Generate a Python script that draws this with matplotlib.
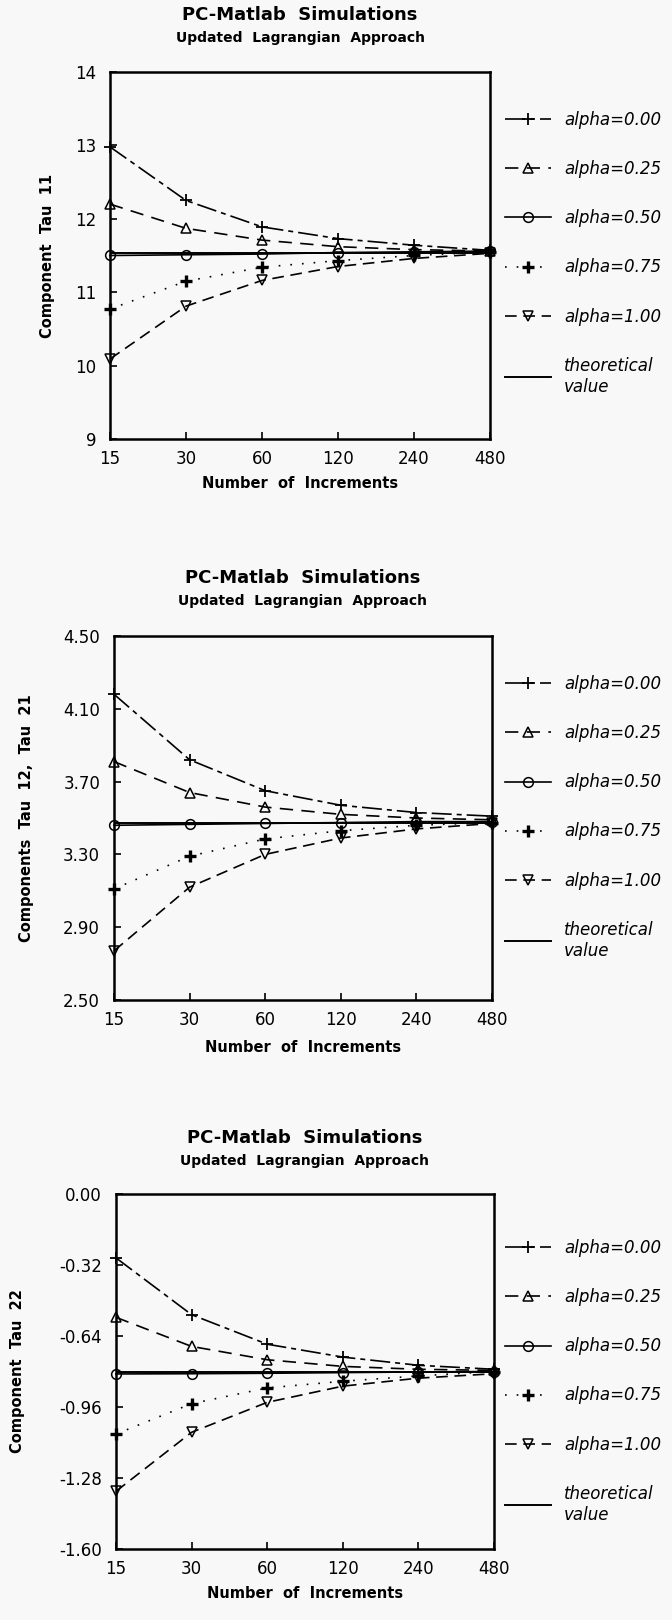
"""
Three stacked panels: PC-Matlab simulations, Updated Lagrangian approach.
"""

import matplotlib
matplotlib.use("Agg")
import matplotlib.pyplot as plt
from matplotlib.lines import Line2D

# Number of increments (x axis)
increments = [15, 30, 60, 120, 240, 480]
alpha_labels = ["alpha=0.00", "alpha=0.25", "alpha=0.50", "alpha=0.75", "alpha=1.00"]

# Component Tau 11
tau11_a000 = [12.98, 12.25, 11.89, 11.73, 11.64, 11.57]
tau11_a025 = [12.20, 11.87, 11.71, 11.62, 11.58, 11.56]
tau11_a050 = [11.50, 11.51, 11.52, 11.54, 11.55, 11.56]
tau11_a075 = [10.77, 11.15, 11.34, 11.43, 11.50, 11.55]
tau11_a100 = [10.09, 10.81, 11.16, 11.35, 11.46, 11.53]
tau11_theory = 11.53
tau11_ticks = [9, 10, 11, 12, 13, 14]
tau11_ticklabels = ["9", "10", "11", "12", "13", "14"]

# Components Tau 12, Tau 21
tau12_a000 = [4.18, 3.82, 3.65, 3.57, 3.53, 3.51]
tau12_a025 = [3.81, 3.64, 3.56, 3.52, 3.50, 3.49]
tau12_a050 = [3.46, 3.465, 3.47, 3.475, 3.48, 3.48]
tau12_a075 = [3.11, 3.29, 3.385, 3.43, 3.46, 3.475]
tau12_a100 = [2.77, 3.12, 3.30, 3.39, 3.44, 3.47]
tau12_theory = 3.475
tau12_ticks = [2.50, 2.90, 3.30, 3.70, 4.10, 4.50]
tau12_ticklabels = ["2.50", "2.90", "3.30", "3.70", "4.10", "4.50"]

# Component Tau 22
tau22_a000 = [-0.288, -0.544, -0.677, -0.735, -0.772, -0.79]
tau22_a025 = [-0.556, -0.687, -0.747, -0.777, -0.79, -0.795]
tau22_a050 = [-0.811, -0.81, -0.808, -0.805, -0.802, -0.80]
tau22_a075 = [-1.082, -0.945, -0.874, -0.844, -0.82, -0.80]
tau22_a100 = [-1.34, -1.074, -0.939, -0.866, -0.83, -0.81]
tau22_theory = -0.80
tau22_ticks = [-1.60, -1.28, -0.96, -0.64, -0.32, 0.00]
tau22_ticklabels = ["-1.60", "-1.28", "-0.96", "-0.64", "-0.32", "0.00"]

W, H = 672, 1620
BG = "#f8f8f8"

# line style per alpha: (linestyle, marker, markersize, mew)
styles = [
    ((0, (12, 3, 3, 3)), "+", 9, 1.3),
    ((0, (8, 5)), "^", 7, 1.1),
    ("-", "o", 7, 1.1),
    ((0, (1, 6)), "+", 8, 2.4),
    ((0, (7, 4)), "v", 7, 1.1),
]


def px(x, y):
    return x / W, 1 - y / H


def panel(fig, box, series, theory, ticks, ticklabels, ylabel, ylabel_x,
          title_y, xlabel_y, leg_y):
    left, top, right, bottom = box
    ax = fig.add_axes([left / W, 1 - bottom / H, (right - left) / W, (bottom - top) / H])
    ax.set_facecolor(BG)

    handles = []
    for ys, (ls, mk, ms, mew), lab in zip(series, styles, alpha_labels):
        ax.plot(increments, ys, color="black", lw=1.2, linestyle=ls,
                marker=mk, ms=ms, mfc="none", mew=mew, clip_on=False, zorder=3)
        handles.append(Line2D([], [], color="black", lw=1.2, linestyle=ls,
                              marker=mk, ms=ms, mfc="none", mew=mew, label=lab))
    ax.axhline(theory, color="black", lw=1.4)
    handles.append(Line2D([], [], color="black", lw=1.4, label="theoretical\nvalue"))

    ax.set_xscale("log", base=2)
    ax.set_xlim(15, 480)
    ax.set_xticks(increments, [str(v) for v in increments])
    ax.minorticks_off()
    ax.set_ylim(ticks[0], ticks[-1])
    ax.set_yticks(ticks, ticklabels)
    ax.tick_params(direction="in", length=5, width=1.2, labelsize=12,
                   top=False, right=False)
    ax.tick_params(axis="x", pad=8)
    ax.tick_params(axis="y", pad=10)
    for s in ax.spines.values():
        s.set_linewidth(1.8)

    cx = (left + right) / 2
    fig.text(*px(cx, title_y), "PC-Matlab  Simulations", ha="center", va="center",
             fontsize=13, fontweight="heavy")
    fig.text(*px(cx, title_y + 23), "Updated  Lagrangian  Approach", ha="center",
             va="center", fontsize=10, fontweight="bold")
    fig.text(*px(cx, xlabel_y), "Number  of  Increments", ha="center", va="center",
             fontsize=10.5, fontweight="bold")
    fig.text(*px(ylabel_x, (top + bottom) / 2), ylabel, ha="center", va="center",
             rotation=90, fontsize=10.5, fontweight="bold")

    leg = fig.legend(handles=handles, loc="upper left",
                     bbox_to_anchor=px(505, leg_y - 8), bbox_transform=fig.transFigure,
                     frameon=False, fontsize=12, handlelength=2.75, handletextpad=0.8,
                     labelspacing=1.87, borderpad=0, borderaxespad=0)
    for t in leg.get_texts():
        t.set_fontstyle("italic")
    return ax


fig = plt.figure(figsize=(W / 100, H / 100), dpi=100, facecolor=BG)

panel(fig, (110, 72, 490, 439),
      [tau11_a000, tau11_a025, tau11_a050, tau11_a075, tau11_a100],
      tau11_theory, tau11_ticks, tau11_ticklabels, "Component  Tau  11", 48,
      15, 484, 119)

panel(fig, (114, 636, 492, 1000),
      [tau12_a000, tau12_a025, tau12_a050, tau12_a075, tau12_a100],
      tau12_theory, tau12_ticks, tau12_ticklabels, "Components  Tau  12,  Tau  21", 27,
      578, 1047, 683)

panel(fig, (116, 1194, 494, 1549),
      [tau22_a000, tau22_a025, tau22_a050, tau22_a075, tau22_a100],
      tau22_theory, tau22_ticks, tau22_ticklabels, "Component  Tau  22", 18,
      1138, 1593, 1247)

fig.savefig("out.png", dpi=100, facecolor=BG)
